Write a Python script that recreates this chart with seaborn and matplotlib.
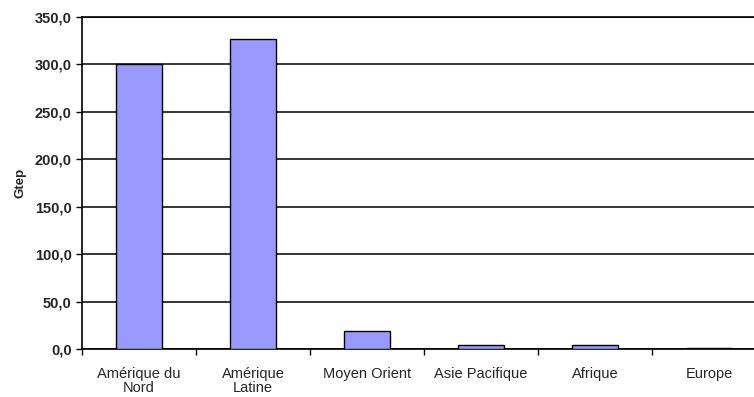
import matplotlib
matplotlib.use("Agg")
import matplotlib.pyplot as plt
import seaborn as sns
import pandas as pd
import numpy as np

regions = ["Amérique du\nNord", "Amérique\nLatine", "Moyen Orient",
           "Asie Pacifique", "Afrique", "Europe"]
reserves = [300.0, 327.0, 19.0, 4.2, 4.0, 1.5]
y_ticks = [0, 50, 100, 150, 200, 250, 300, 350]

sns.set_theme(style="white")
plt.rcParams["font.family"] = ["Liberation Sans", "DejaVu Sans"]

df = pd.DataFrame({"region": regions, "Gtep": reserves})

fig = plt.figure(figsize=(7.54, 3.97), dpi=100)
ax = fig.add_axes([82 / 754, 48 / 397, 684 / 754, 332 / 397])

sns.barplot(data=df, x="region", y="Gtep", color="#9999FF", width=0.4,
            edgecolor="black", linewidth=1.0, saturation=1, ax=ax, zorder=3)

ax.set_ylim(0, 350)
ax.set_xlim(-0.5, len(regions) - 0.5)
ax.set_yticks(y_ticks)
ax.set_yticklabels([f"{v:.1f}".replace(".", ",") for v in y_ticks],
                   fontsize=10.5, fontweight="bold")
ax.yaxis.grid(True, color="black", linewidth=1.1, zorder=0)
ax.set_axisbelow(True)

ax.set_xticks(range(len(regions)))
ax.set_xticklabels(regions, fontsize=10.5, linespacing=1.0)
ax.set_xticks(np.arange(-0.5, len(regions), 1.0), minor=True)
ax.tick_params(axis="x", which="major", length=0, pad=13)
ax.tick_params(axis="x", which="minor", length=4, width=1, color="black",
               direction="out", bottom=True)
ax.tick_params(axis="y", length=4, width=1, color="black", direction="out",
               left=True, pad=3.5)

ax.set_xlabel("")
ax.set_ylabel("Gtep", fontsize=9.5, fontweight="bold", labelpad=6)

for side in ["left", "bottom", "top"]:
    ax.spines[side].set_color("black")
    ax.spines[side].set_linewidth(1.2)
ax.spines["right"].set_visible(False)

fig.savefig("out.png", dpi=100)
